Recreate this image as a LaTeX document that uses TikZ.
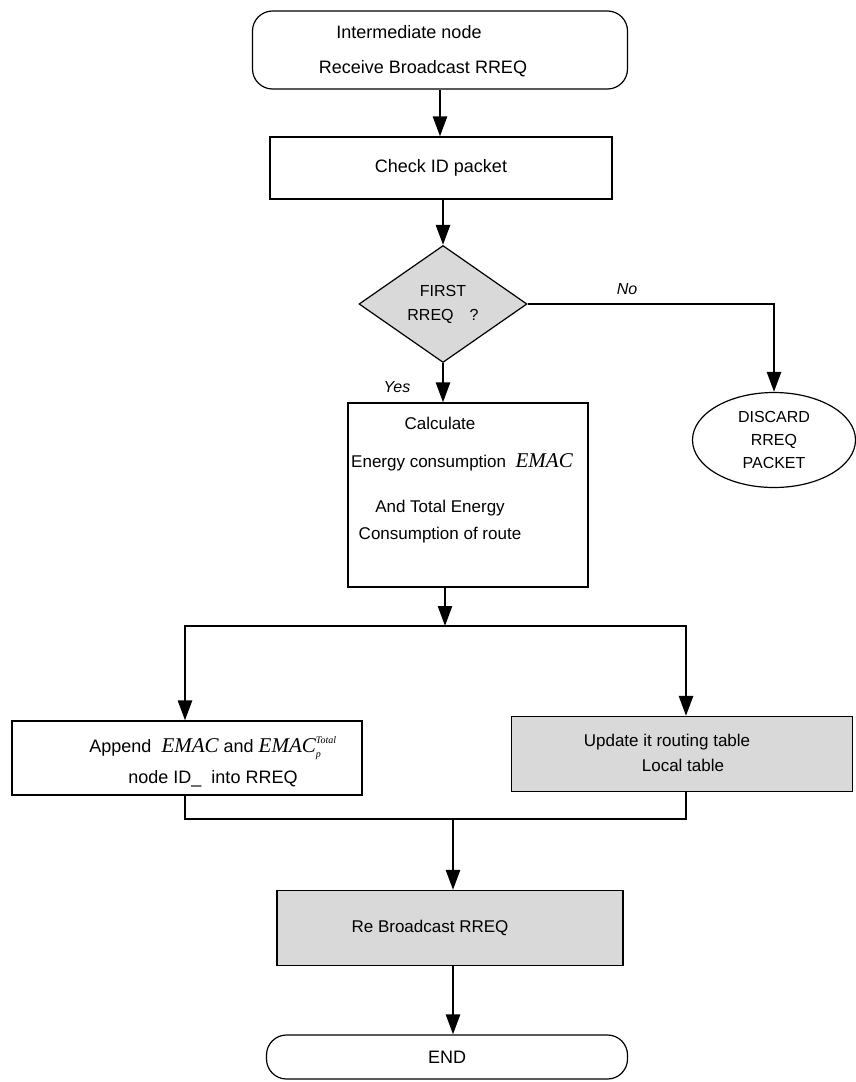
\documentclass[tikz,border=0pt]{standalone}
\usepackage{fontspec}
\setmainfont{Liberation Sans}
\newfontfamily\emacfont{Liberation Serif}
\usetikzlibrary{shapes.geometric,arrows.meta,positioning}
\newcommand\emacbig{\emacfont\itshape\fontsize{21}{21}\selectfont}
\newcommand\emacsmall{\emacfont\itshape\fontsize{10}{10}\selectfont}

\begin{document}
\begin{tikzpicture}[x=1pt,y=-1pt,
   box/.style={draw,line width=1.2pt,shape=rectangle,inner sep=0pt,font=\fontsize{18}{22}\selectfont},
   term/.style={box,rounded corners=20pt},
   shaded/.style={box,fill=black!15},
   txt/.style={align=center,inner sep=0pt,font=\fontsize{18}{35}\selectfont},
   tag/.style={font=\fontsize{16}{18}\selectfont\itshape},
   flow/.style={line width=2.6pt,-{Triangle[length=20pt,width=14pt]}},
   wire/.style={line width=2.6pt,line cap=rect}]
   \useasboundingbox (0,0) rectangle (856,1082);
   % boxes
   \node[term,minimum width=375pt,minimum height=78pt] (start) at (440,50) {};
   \node[txt] (start text) at (423,51) {Intermediate node\hspace*{28pt}\mbox{}\\Receive Broadcast RREQ};
   \node[box,minimum width=342pt,minimum height=62pt] (check) at (441,168) {\raisebox{-4pt}{Check ID packet}};
   \node[diamond,draw,line width=1.2pt,fill=black!15,minimum width=168pt,minimum height=117pt,
         inner sep=0pt,align=center,font=\fontsize{16}{24}\selectfont] (first) at (443,304) {FIRST\\RREQ\quad ?};
   \node[ellipse,draw,line width=1.2pt,minimum width=163pt,minimum height=95pt,inner sep=0pt,
         align=center,font=\fontsize{16}{23}\selectfont] (discard) at (774,440) {DISCARD\\RREQ\\PACKET};
   \node[box,minimum width=240pt,minimum height=184pt] (calc) at (468,495) {};
   \node[txt,font=\fontsize{17}{27}\selectfont] (calc text) at (462,480)
      {Calculate\hspace*{44pt}\mbox{}\\[11pt]Energy consumption\ \ {\emacbig EMAC}\\[18pt]And Total Energy\hspace*{44pt}\mbox{}\\Consumption of route\hspace*{44pt}\mbox{}};
   \node[box,minimum width=350pt,minimum height=74pt] (append) at (187,758) {};
   \node[txt,font=\fontsize{18}{31}\selectfont] (append text) at (213,762)
      {Append\ \ {\emacbig EMAC} and ${\mbox{\emacbig EMAC}}_{\mbox{\emacsmall p}}^{\mbox{\emacsmall Total}}$\\node ID\_\ \ into RREQ};
   \node[shaded,minimum width=341pt,minimum height=75pt] (update) at (682,754) {};
   \node[txt,font=\fontsize{17}{25}\selectfont] (update text) at (667,753) {Update it routing table\\\hspace*{32pt}Local table};
   \node[shaded,minimum width=346pt,minimum height=75pt] (rebroad) at (450,928) {};
   \node[txt,font=\fontsize{17}{20}\selectfont] (rebroad text) at (430,928) {Re Broadcast RREQ};
   \node[term,minimum width=361pt,minimum height=44pt] (end) at (447,1057) {END};
   % branch labels
   \node[tag] (no)  at (627,289) {No};
   \node[tag] (yes) at (397,387) {Yes};
   % junctions
   \coordinate (split)       at (445,626);
   \coordinate (split left)  at (185,626);
   \coordinate (split right) at (686,626);
   \coordinate (merge)       at (453,819);
   \coordinate (merge left)  at (185,819);
   \coordinate (merge right) at (686,819);
   % connectors
   \draw[flow] (start.south) -- (start.south |- check.north);
   \draw[flow] (check.south -| first.north) -- (first.north);
   \draw[flow] (first.east) -| (discard.north);
   \draw[flow] (first.south) -- (first.south |- calc.north);
   \draw[flow] (split |- calc.south) -- (split);
   \draw[wire] (split left) -- (split right);
   \draw[flow] (split left) -- (split left |- append.north);
   \draw[flow] (split right) -- (split right |- update.north);
   \draw[wire] (append.south -| merge left) -- (merge left) -- (merge right) -- (update.south -| merge right);
   \draw[flow] (merge) -- (merge |- rebroad.north);
   \draw[flow] (rebroad.south -| merge) -- (merge |- end.north);
\end{tikzpicture}
\end{document}
